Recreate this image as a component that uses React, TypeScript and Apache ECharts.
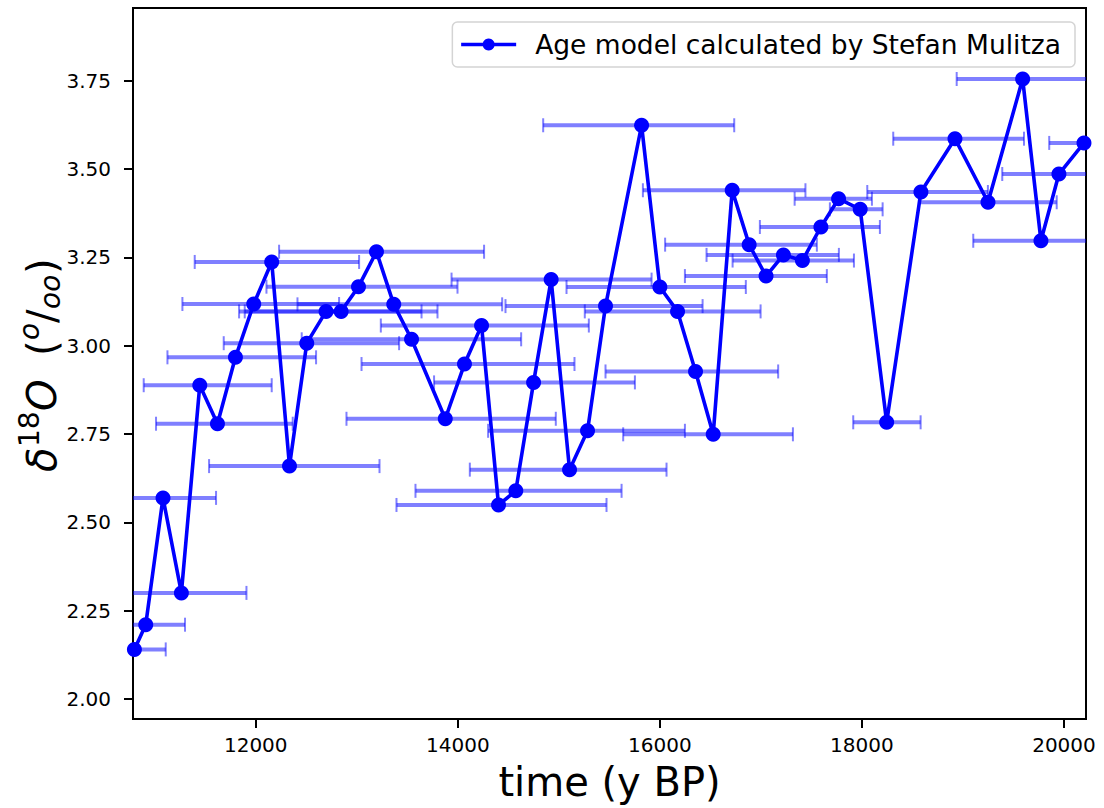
import React, { useEffect, useRef } from "react";
import * as echarts from "echarts";

// Age (y BP) of each sample
const ages = [
  10799, 10911, 11082, 11264, 11446, 11621, 11799, 11980, 12158, 12334,
  12505, 12696, 12845, 13017, 13195, 13366, 13542, 13876, 14066, 14235,
  14403, 14574, 14750, 14924, 15106, 15284, 15462, 15819, 16000, 16175,
  16353, 16528, 16716, 16884, 17051, 17223, 17411, 17594, 17769, 17983,
  18245, 18584, 18921, 19248, 19591, 19772, 19950, 20198,
];
// delta 18O values (per mil)
const d18O = [
  2.14, 2.21, 2.569, 2.3, 2.888, 2.779, 2.967, 3.118, 3.237, 2.659,
  3.007, 3.097, 3.097, 3.167, 3.266, 3.117, 3.018, 2.793, 2.948, 3.057,
  2.549, 2.589, 2.896, 3.187, 2.649, 2.759, 3.112, 3.624, 3.166, 3.097,
  2.927, 2.749, 3.44, 3.286, 3.197, 3.257, 3.241, 3.336, 3.416, 3.386,
  2.783, 3.435, 3.586, 3.406, 3.755, 3.297, 3.486, 3.574,
];
// age uncertainty: lower and upper bounds
const ageLow = [
  10485, 10525, 10554, 10624, 10891, 11013, 11126, 11274, 11396, 11538,
  11683, 11835, 11891, 12106, 12231, 12413, 12455, 12898, 13047, 13238,
  13393, 13581, 13765, 13938, 14119, 14300, 14472, 14845, 15076, 15257,
  15462, 15637, 15832, 16052, 16248, 16462, 16720, 16990, 17334, 17683,
  17914, 18053, 18310, 18564, 18938, 19102, 19389, 19854,
];
const ageHigh = [
  11109, 11300, 11607, 11908, 12158, 12366, 12597, 12825, 13023, 13225,
  13419, 13641, 13799, 13997, 14260, 14439, 14627, 14970, 15155, 15297,
  15472, 15621, 15753, 15918, 16066, 16248, 16423, 16736, 16851, 16997,
  17171, 17317, 17441, 17554, 17653, 17772, 17921, 18178, 18099, 18205,
  18581, 19247, 19604, 19928, 20238, 20446, 20515, 20545,
];

const xTicks = [12000, 14000, 16000, 18000, 20000];
const yTicks = [2.0, 2.25, 2.5, 2.75, 3.0, 3.25, 3.5, 3.75];
const seriesName = "Age model calculated by Stefan Mulitza";

const FONT = "DejaVu Sans";

export default function App() {
  const ref = useRef<HTMLDivElement>(null);
  useEffect(() => {
    if (!ref.current) return;
    const chart = echarts.init(ref.current, undefined, { renderer: "svg" });

    const errData = ages.map((_, i) => [d18O[i], ageLow[i], ageHigh[i]]);
    const lineData = ages.map((a, i) => [a, d18O[i]]);

    const errColor = "rgba(0,0,255,0.5)";
    const renderErr = (_params: any, api: any) => {
      const y = api.value(0);
      const lo = api.value(1);
      const hi = api.value(2);
      const a = api.coord([lo, y]);
      const b = api.coord([hi, y]);
      const cap = 7;
      return {
        type: "group",
        children: [
          { type: "line", shape: { x1: a[0], y1: a[1], x2: b[0], y2: b[1] }, style: { stroke: errColor, lineWidth: 4 } },
          { type: "line", shape: { x1: a[0], y1: a[1] - cap, x2: a[0], y2: a[1] + cap }, style: { stroke: errColor, lineWidth: 2 } },
          { type: "line", shape: { x1: b[0], y1: b[1] - cap, x2: b[0], y2: b[1] + cap }, style: { stroke: errColor, lineWidth: 2 } },
        ],
      };
    };

    // y label pieces (rotated)
    const F = 40;
    const S = 28;
    const ylabelParts = [
      { t: "δ", x: 0, y: 0, s: F, it: true },
      { t: "18", x: 25, y: -13, s: S, it: false },
      { t: "O", x: 61, y: 0, s: F, it: true },
      { t: "(", x: 116, y: 0, s: F, it: false },
      { t: "o", x: 132, y: -13, s: S, it: true },
      { t: "/", x: 149, y: 0, s: F, it: false },
      { t: "oo", x: 163, y: 8, s: S, it: true },
      { t: ")", x: 198, y: 0, s: F, it: false },
    ];
    const totalW = 214;

    chart.setOption({
      animation: false,
      backgroundColor: "#ffffff",
      grid: { left: 133, right: 18, top: 8, bottom: 89, show: true, borderColor: "#000", borderWidth: 2, backgroundColor: "transparent" },
      legend: {
        show: true,
        data: [seriesName],
        right: 29,
        top: 22,
        itemWidth: 55,
        itemHeight: 15,
        padding: [9, 14, 9, 7],
        borderColor: "#d4d4d4",
        borderWidth: 1.5,
        borderRadius: 5,
        backgroundColor: "rgba(255,255,255,0.8)",
        lineStyle: { width: 3.6, color: "#0000ff" },
        itemStyle: { color: "#0000ff" },
        textStyle: { fontFamily: FONT, fontSize: 26.5, color: "#000", padding: [0, 0, 0, 14] },
      },
      xAxis: {
        type: "value",
        min: 10785,
        max: 20218,
        name: "time (y BP)",
        nameLocation: "middle",
        nameGap: 43,
        nameTextStyle: { fontFamily: FONT, fontSize: 40, color: "#000" },
        axisLine: { show: true, lineStyle: { color: "#000", width: 2 } },
        axisTick: { show: true, customValues: xTicks, length: 9, inside: false, lineStyle: { color: "#000", width: 2 } },
        axisLabel: { customValues: xTicks, fontFamily: FONT, fontSize: 20, color: "#000", margin: 16, formatter: (v: number) => String(v) },
        splitLine: { show: false },
      },
      yAxis: {
        type: "value",
        min: 1.943,
        max: 3.956,
        axisLine: { show: true, lineStyle: { color: "#000", width: 2 } },
        axisTick: { show: true, customValues: yTicks, length: 9, inside: false, lineStyle: { color: "#000", width: 2 } },
        axisLabel: { customValues: yTicks, fontFamily: FONT, fontSize: 20, color: "#000", margin: 22, formatter: (v: number) => v.toFixed(2) },
        splitLine: { show: false },
      },
      graphic: [
        {
          type: "group",
          x: 42,
          y: 365,
          rotation: Math.PI / 2,
          children: ylabelParts.map((p) => ({
            type: "text",
            x: p.x - totalW / 2,
            y: p.y,
            style: {
              text: p.t,
              fontFamily: FONT,
              fontSize: p.s,
              fontStyle: p.it ? "italic" : "normal",
              fill: "#000",
              align: "left",
              verticalAlign: "middle",
            },
          })),
        },
      ],
      series: [
        {
          type: "custom",
          name: "errors",
          renderItem: renderErr,
          data: errData,
          encode: { x: [1, 2], y: 0 },
          clip: true,
          z: 1,
        },
        {
          type: "line",
          name: seriesName,
          data: lineData,
          symbol: "circle",
          symbolSize: 15,
          showSymbol: true,
          lineStyle: { color: "#0000ff", width: 3.6 },
          itemStyle: { color: "#0000ff" },
          clip: true,
          z: 3,
        },
      ],
    });
    return () => chart.dispose();
  }, []);
  return <div ref={ref} style={{ position: "fixed", left: 0, top: 0, width: 1104, height: 808 }} />;
}
